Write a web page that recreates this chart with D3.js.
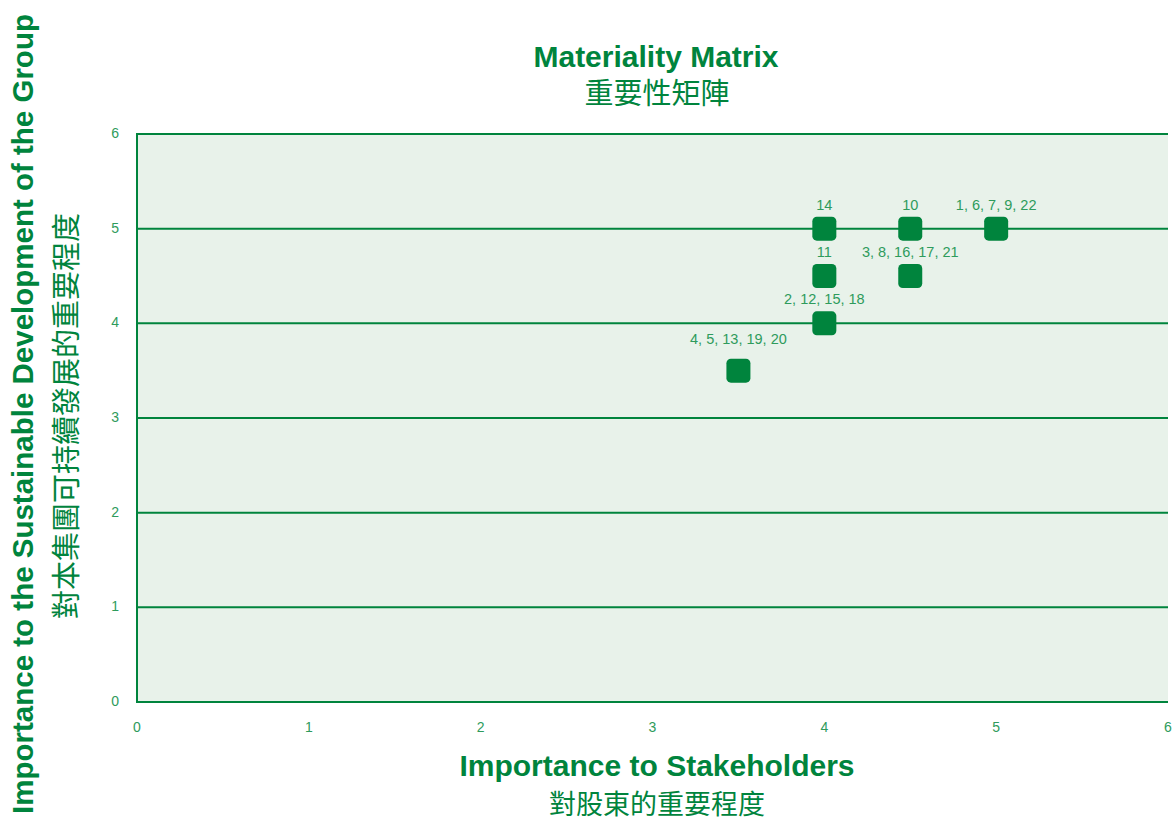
<!DOCTYPE html>
<html>
<head>
<meta charset="utf-8">
<script src="https://cdn.jsdelivr.net/npm/d3@7"></script>
<style>
  body { margin: 0; background: #fff; }
  text { font-family: "Liberation Sans", Arial, "Noto Sans CJK TC", sans-serif; }
  .cjk { font-family: "Noto Sans CJK TC", sans-serif; }
</style>
</head>
<body>
<div id="chart"></div>
<script>
// materiality matrix data
const stakeholderScore = [4, 4.5, 5, 4, 4.5, 4, 3.5];
const groupScore = [5, 5, 5, 4.5, 4.5, 4, 3.5];
const issueLabels = ["14", "10", "1, 6, 7, 9, 22", "11", "3, 8, 16, 17, 21", "2, 12, 15, 18", "4, 5, 13, 19, 20"];
const ticks = [0, 1, 2, 3, 4, 5, 6];

const width = 1175, height = 822;
const margin = {top: 134, right: 7, bottom: 120, left: 137};
const green = "#00843d";
const light = "#2e9b5c";

const svg = d3.select("#chart").append("svg")
    .attr("width", width)
    .attr("height", height);

const x = d3.scaleLinear().domain([0, 6]).range([margin.left, width - margin.right]);
const y = d3.scaleLinear().domain([0, 6]).range([height - margin.bottom, margin.top]);

// plot background
svg.append("rect")
    .attr("x", x(0))
    .attr("y", y(6))
    .attr("width", x(6) - x(0))
    .attr("height", y(0) - y(6))
    .attr("fill", "#e8f2ea");

// horizontal grid lines
svg.append("g")
    .selectAll("line")
    .data(ticks)
    .join("line")
    .attr("x1", x(0))
    .attr("x2", x(6))
    .attr("y1", d => y(d))
    .attr("y2", d => y(d))
    .attr("stroke", green)
    .attr("stroke-width", 2);

svg.append("line")
    .attr("x1", x(0)).attr("x2", x(0))
    .attr("y1", y(0) + 1).attr("y2", y(6) - 1)
    .attr("stroke", green)
    .attr("stroke-width", 2);

// tick labels
svg.append("g")
    .selectAll("text")
    .data(ticks)
    .join("text")
    .attr("x", 119)
    .attr("y", d => y(d) + 4)
    .attr("text-anchor", "end")
    .attr("font-size", 14)
    .attr("fill", light)
    .text(d => d);

svg.append("g")
    .selectAll("text")
    .data(ticks)
    .join("text")
    .attr("x", d => x(d))
    .attr("y", 732)
    .attr("text-anchor", "middle")
    .attr("font-size", 14)
    .attr("fill", light)
    .text(d => d);

// points
const points = stakeholderScore.map((v, i) => ({x: v, y: groupScore[i], label: issueLabels[i]}));

svg.append("g")
    .selectAll("rect")
    .data(points)
    .join("rect")
    .attr("x", d => x(d.x) - 12)
    .attr("y", d => y(d.y) - 12)
    .attr("width", 24)
    .attr("height", 24)
    .attr("rx", 4.5)
    .attr("fill", green);

svg.append("g")
    .selectAll("text")
    .data(points)
    .join("text")
    .attr("x", d => x(d.x))
    .attr("y", d => y(d.y) - (d.y === 3.5 ? 27 : 19))
    .attr("text-anchor", "middle")
    .attr("font-size", 14.5)
    .attr("fill", light)
    .text(d => d.label);

// titles
svg.append("text")
    .attr("x", 656).attr("y", 67)
    .attr("text-anchor", "middle")
    .attr("font-size", 30).attr("font-weight", "bold")
    .attr("fill", green)
    .text("Materiality Matrix");
svg.append("text")
    .attr("class", "cjk")
    .attr("x", 657).attr("y", 104)
    .attr("text-anchor", "middle")
    .attr("font-size", 29)
    .attr("fill", green)
    .text("重要性矩陣");

svg.append("text")
    .attr("x", 657).attr("y", 776)
    .attr("text-anchor", "middle")
    .attr("font-size", 30).attr("font-weight", "bold")
    .attr("fill", green)
    .text("Importance to Stakeholders");
svg.append("text")
    .attr("class", "cjk")
    .attr("x", 657).attr("y", 814)
    .attr("text-anchor", "middle")
    .attr("font-size", 27)
    .attr("fill", green)
    .text("對股東的重要程度");

svg.append("text")
    .attr("transform", "translate(33,414) rotate(-90)")
    .attr("text-anchor", "middle")
    .attr("font-size", 29.5).attr("font-weight", "bold")
    .attr("fill", green)
    .text("Importance to the Sustainable Development of the Group");
svg.append("text")
    .attr("class", "cjk")
    .attr("transform", "translate(77,416) rotate(-90)")
    .attr("text-anchor", "middle")
    .attr("font-size", 29)
    .attr("fill", green)
    .text("對本集團可持續發展的重要程度");
</script>
</body>
</html>
